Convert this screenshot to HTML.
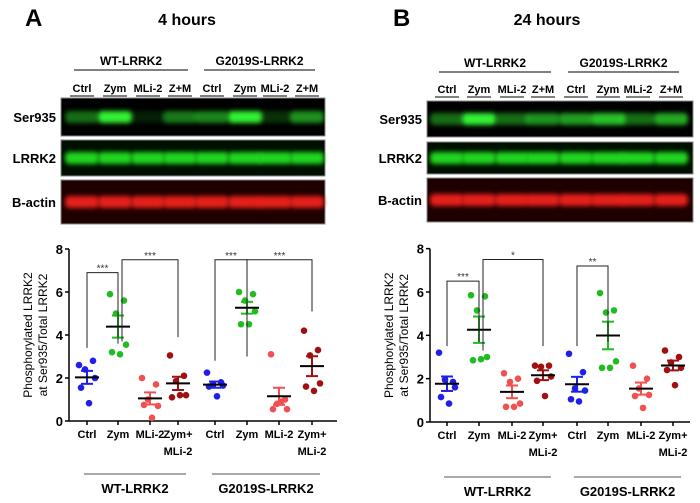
<!DOCTYPE html>
<html><head><meta charset="utf-8"><style>
body{margin:0;background:#fff}
svg{display:block;font-family:"Liberation Sans",sans-serif}
</style></head><body>
<svg id="fig" width="700" height="503" viewBox="0 0 700 503">
<defs>
<filter id="blur" x="-20%" y="-100%" width="140%" height="300%"><feGaussianBlur stdDeviation="2.5"/></filter>
</defs>
</svg>
<script>
const categories=["Ctrl","Zym","MLi-2","Zym+\nMLi-2","Ctrl","Zym","MLi-2","Zym+\nMLi-2"];
const lanes=["Ctrl","Zym","MLi-2","Z+M","Ctrl","Zym","MLi-2","Z+M"];
const yTicks=[0,2,4,6,8];
const valuesA=[[2.6,2.8,2.4,2.0,1.55,0.83],[5.9,5.6,5.0,3.55,3.2,3.1],[2.0,1.7,1.0,0.7,0.75,0.15],[3.05,2.1,1.85,1.2,1.1,1.2],[2.25,1.8,1.7,1.65,1.6,1.15],[6.0,5.9,5.6,5.1,4.5,4.5],[3.1,1.0,0.8,0.55,0.55,0.9],[4.2,3.3,3.05,1.75,1.6,1.4]];
const valuesB=[[3.2,1.85,1.95,1.6,1.15,0.85],[5.85,5.8,5.15,3.0,2.85,2.9],[2.25,2.0,1.85,0.85,0.7,0.7],[2.6,2.6,2.55,2.1,1.9,1.2],[3.15,2.3,1.55,1.45,1.05,0.95],[5.95,5.15,5.05,2.8,2.5,2.5],[2.6,2.0,1.55,1.25,1.2,0.65],[3.3,3.0,2.75,2.5,2.4,1.7]];
const ser935A=[0.45,1.0,0.12,0.5,0.55,1.0,0.2,0.6];
const ser935B=[0.45,1.0,0.45,0.6,0.65,0.8,0.45,0.7];
const colors=["#1f1fe6","#22bb22","#f05050","#a01010","#1f1fe6","#22bb22","#f05050","#a01010"];
const sigA=[["***",0,1,6.9,3.6],["***",1,3,7.5,3.9],["***",4,5,7.5,3.0],["***",5,7,7.5,5.1]];
const sigB=[["***",0,1,6.5,3.7],["*",1,3,7.5,3.5],["**",4,5,7.2,3.7]];
const NS="http://www.w3.org/2000/svg";
const svg=document.getElementById("fig");
function mk(tag,attrs,parent,text){const e=document.createElementNS(NS,tag);for(const k in attrs)e.setAttribute(k,attrs[k]);if(text!==undefined)e.textContent=text;(parent||svg).appendChild(e);return e;}

function panel(o){
  const g=mk("g",{});
  
  
  let t=mk("text",{x:o.letterX,y:26,"font-size":24,"font-weight":"bold"},g,o.letter);
  
  
  t=mk("text",{x:o.titleX,y:25,"font-size":16,"font-weight":"bold","text-anchor":"middle"},g,o.title);
  
  
  const gx=[[o.lanes[0]-8,o.lanes[3]+8,"WT-LRRK2"],[o.lanes[4]-8,o.lanes[7]+8,"G2019S-LRRK2"]];
  gx.forEach(h=>{
    t=mk("text",{x:(h[0]+h[1])/2,y:o.gy,"font-size":12,"font-weight":"bold","text-anchor":"middle"},g,h[2]);
    
    
    mk("line",{x1:h[0],x2:h[1],y1:o.gy+5,y2:o.gy+5,stroke:"#000","stroke-width":1},g);
  });
  lanes.forEach((l,i)=>{
    t=mk("text",{x:o.lanes[i],y:o.ly,"font-size":11,"font-weight":"bold","text-anchor":"middle"},g,l);
    
    
    mk("line",{x1:o.lanes[i]-12,x2:o.lanes[i]+12,y1:o.ly+4,y2:o.ly+4,stroke:"#000","stroke-width":1},g);
  });
  const rows=[["Ser935",o.r[0],o.r[1],"#33f033"],["LRRK2",o.r[2],o.r[3],"#22e022"],["B-actin",o.r[4],o.r[5],"#f0201a"]];
  rows.forEach((r,ri)=>{
    const rg=mk("g",{},g);
    
    
    mk("rect",{x:o.bx0,y:r[1],width:o.bx1-o.bx0,height:r[2]-r[1],fill:ri==2?"#1e0000":(ri==1?"#001000":"#000"),stroke:"#888","stroke-width":1},rg);
    t=mk("text",{x:o.bx0-5,y:(r[1]+r[2])/2+5,"font-size":13,"font-weight":"bold","text-anchor":"end"},rg,r[0]);
    
    
    const cy=(r[1]+r[2])/2;
    o.lanes.forEach((lx,i)=>{
      const op=ri==0?o.ser[i]:0.95;
      const b=mk("rect",{x:lx-17,y:cy-6,width:34,height:12,rx:4,fill:r[3],opacity:op,filter:"url(#blur)"},rg);
      
      
    });
  });
  const cg=mk("g",{},g);
  
  
  const y=v=>o.y0-v*o.sy;
  const x=i=>o.cx[i];
  mk("line",{x1:o.ax,x2:o.ax,y1:y(8),y2:y(0),stroke:"#000","stroke-width":1.5},cg);
  mk("line",{x1:o.ax,x2:o.axEnd,y1:y(0),y2:y(0),stroke:"#000","stroke-width":1.5},cg);
  yTicks.forEach(v=>{
    mk("line",{x1:o.ax-4,x2:o.ax,y1:y(v),y2:y(v),stroke:"#000","stroke-width":1.5},cg);
    t=mk("text",{x:o.ax-6,y:y(v)+5,"font-size":13,"font-weight":"bold","text-anchor":"end"},cg,v);
    
    
  });
  t=mk("text",{transform:`translate(${o.ax-37},${y(4)}) rotate(-90)`,"font-size":12,"text-anchor":"middle"},cg);
  
  
  mk("tspan",{x:0,dy:0},t,"Phosphorylated LRRK2");
  mk("tspan",{x:0,dy:15},t,"at Ser935/Total LRRK2");
  categories.forEach((c,i)=>{
    mk("line",{x1:x(i),x2:x(i),y1:y(0),y2:y(0)+4,stroke:"#000","stroke-width":1.5},cg);
    c.split("\n").forEach((ln,k)=>{
      t=mk("text",{x:x(i),y:y(0)+17+k*17,"font-size":11,"font-weight":"bold","text-anchor":"middle"},cg,ln);
      
      
    });
  });
  [[0,3,"WT-LRRK2"],[4,7,"G2019S-LRRK2"]].forEach(h=>{
    const x1=x(h[0])-3,x2=x(h[1])+8;
    mk("line",{x1:x1,x2:x2,y1:o.bly,y2:o.bly,stroke:"#555","stroke-width":1},cg);
    t=mk("text",{x:(x1+x2)/2,y:o.bly+19,"font-size":13,"font-weight":"bold","text-anchor":"middle"},cg,h[2]);
    
    
  });
  o.vals.forEach((arr,i)=>{
    const n=arr.length,m=arr.reduce((a,b)=>a+b,0)/n;
    const sd=Math.sqrt(arr.reduce((a,b)=>a+(b-m)*(b-m),0)/(n-1)),se=sd/Math.sqrt(n);
    const offs=[-8,6,-2,8,-6,2];
    arr.forEach((v,k)=>{
      const p=mk("circle",{cx:x(i)+offs[k%6],cy:y(v),r:3.3,fill:colors[i]},cg);
      
      
    });
    const eb=mk("g",{stroke:colors[i],"stroke-width":2},cg);
    
    
    mk("line",{x1:x(i),x2:x(i),y1:y(m+se),y2:y(m-se)},eb);
    mk("line",{x1:x(i)-6,x2:x(i)+6,y1:y(m+se),y2:y(m+se)},eb);
    mk("line",{x1:x(i)-6,x2:x(i)+6,y1:y(m-se),y2:y(m-se)},eb);
    const ml=mk("line",{x1:x(i)-12,x2:x(i)+12,y1:y(m),y2:y(m),stroke:"#000","stroke-width":2},cg);
    
    
  });
  o.sig.forEach(s=>{
    const sg=mk("g",{},cg);
    
    
    const xa=x(s[1])+(s[1]==1?4:0),xb=x(s[2]);
    mk("polyline",{points:`${xa},${y(s[4]-0.2)} ${xa},${y(s[3])} ${xb},${y(s[3])} ${xb},${y(s[4])}`,fill:"none",stroke:"#222","stroke-width":1},sg);
    mk("text",{x:(xa+xb)/2,y:y(s[3])-1,"font-size":10,"text-anchor":"middle",fill:"#333"},sg,s[0]);
  });
}
panel({letter:"A",letterX:25,title:"4 hours",titleX:187,gy:65,ly:92,lanes:[82,115,148,180,212,245,275,307],r:[98,136,140,176,180,224],bx0:61,bx1:325,ser:ser935A,
  ax:69,axEnd:337,y0:421,sy:21.5,cx:[87,118,150,178,215,247,279,312],vals:valuesA,sig:sigA,bly:474});
panel({letter:"B",letterX:393,title:"24 hours",titleX:547,gy:67,ly:93,lanes:[447,479,512,543,576,608,638,671],r:[101,137,142,174,178,222],bx0:427,bx1:693,ser:ser935B,
  ax:430,axEnd:690,y0:422,sy:21.67,cx:[447,479,512,543,577,608,641,673],vals:valuesB,sig:sigB,bly:477});
</script>
</body></html>
